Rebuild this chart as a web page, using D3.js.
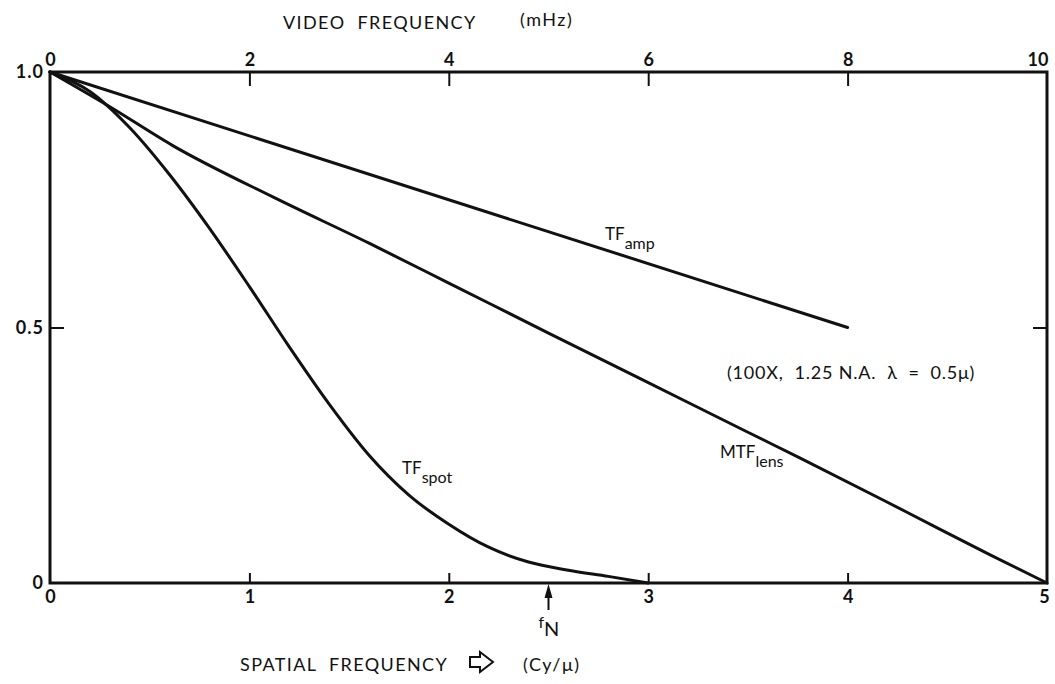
<!DOCTYPE html>
<html><head><meta charset="utf-8">
<script src="https://cdn.jsdelivr.net/npm/d3@7"></script>
<style>
html,body{margin:0;padding:0;background:#fff;}
text{font-family:Lato,"Open Sans",sans-serif;fill:#111;white-space:pre;}
</style></head>
<body><svg id="c" width="1055" height="684"></svg>
<script>
// Data
const spatialTicks = [0,1,2,3,4,5];
const videoTicks = [0,2,4,6,8,10];
const yTicks = [0,0.5,1.0];
const yTickLabels = ["0","0.5","1.0"];
const ampS = [0,4];
const ampV = [1.0,0.5];
const lensS = [0,0.3,0.62,1.12,1.6,2.0,2.5,2.96,3.5,3.76,4.3,4.71,5];
const lensV = [1.0,0.932,0.855,0.755,0.665,0.587,0.489,0.40,0.295,0.245,0.138,0.056,0.0];
const spotS = [0,0.2,0.4,0.6,0.8,1.0,1.2,1.4,1.6,1.8,2.0,2.2,2.4,2.6,2.8,3.0];
const spotV = [1.0,0.962,0.891,0.799,0.694,0.58,0.462,0.35,0.25,0.172,0.115,0.07,0.041,0.025,0.013,0.0];
const nyquist = 2.5;

const svg = d3.select("#c");
const x = d3.scaleLinear().domain([0,5]).range([50,1047]);
const xTop = d3.scaleLinear().domain([0,10]).range([50,1047]);
const y = d3.scaleLinear().domain([0,1]).range([583,72]);

// axes
const gB = svg.append("g").attr("transform",`translate(0,${y(0)})`)
  .call(d3.axisBottom(x).tickValues(spatialTicks).tickFormat(d3.format("d")).tickSizeInner(-10).tickSizeOuter(0).tickPadding(7));
const gT = svg.append("g").attr("transform",`translate(0,${y(1)})`)
  .call(d3.axisTop(xTop).tickValues(videoTicks).tickFormat(d3.format("d")).tickSizeInner(-14).tickSizeOuter(0).tickPadding(6));
const gL = svg.append("g").attr("transform",`translate(${x(0)},0)`)
  .call(d3.axisLeft(y).tickValues(yTicks).tickFormat((d,i)=>yTickLabels[i]).tickSizeInner(-14).tickSizeOuter(0).tickPadding(6));
const gR = svg.append("g").attr("transform",`translate(${x(5)},0)`)
  .call(d3.axisRight(y).tickValues([0.5]).tickFormat("").tickSizeInner(-14).tickSizeOuter(0));
[gB,gT,gL,gR].forEach(g=>{
  g.select(".domain").remove();
  g.selectAll(".tick line").attr("stroke","#111").attr("stroke-width",2);
  g.selectAll(".tick text").attr("font-size",18).attr("font-weight","bold").style("fill","#111");
});
gB.selectAll(".tick line").filter(d=>d===0||d===5).remove();
gT.selectAll(".tick line").filter(d=>d===0||d===10).remove();
gL.selectAll(".tick line").filter(d=>d===0||d===1).remove();
gT.selectAll(".tick text").filter(d=>d===10).attr("text-anchor","end").attr("dx",1);
gB.selectAll(".tick text").filter(d=>d===5).attr("dx",-3);
gL.selectAll(".tick text").attr("letter-spacing",1);

// frame
svg.append("rect").attr("x",x(0)).attr("y",y(1)).attr("width",x(5)-x(0)).attr("height",y(0)-y(1))
  .attr("fill","none").attr("stroke","#111").attr("stroke-width",3);

// curves
const line = d3.line().x(d=>x(d[0])).y(d=>y(d[1])).curve(d3.curveMonotoneX);
function draw(S,V){
  svg.append("path").datum(S.map((s,i)=>[s,V[i]])).attr("d",line)
    .attr("fill","none").attr("stroke","#111").attr("stroke-width",3).attr("stroke-linejoin","round").attr("stroke-linecap","round");
}
draw(ampS,ampV); draw(lensS,lensV); draw(spotS,spotV);

// labels
function sublabel(px,py,main,sub){
  const t = svg.append("text").attr("x",px).attr("y",py).attr("font-size",17);
  t.append("tspan").text(main);
  t.append("tspan").attr("dy",9).attr("font-size",16).text(sub);
}
sublabel(605,240,"TF","amp");
sublabel(720,458,"MTF","lens");
sublabel(402,474,"TF","spot");
svg.append("text").attr("x",727).attr("y",379).attr("font-size",18).attr("letter-spacing",0.8)
  .text("(100X,  1.25 N.A.  λ  =  0.5μ)");

// Nyquist arrow
const nx = x(nyquist);
svg.append("path").attr("d",`M${nx},${y(0)+1} L${nx-4},${y(0)+15} L${nx+4},${y(0)+15} Z`).attr("fill","#111");
svg.append("line").attr("x1",nx).attr("x2",nx).attr("y1",y(0)+10).attr("y2",y(0)+27).attr("stroke","#111").attr("stroke-width",2);
const fn = svg.append("text").attr("x",nx-10).attr("y",628).attr("font-size",16);
fn.append("tspan").text("f");
fn.append("tspan").attr("dy",8).attr("font-size",20).text("N");

// axis titles
svg.append("text").attr("x",283).attr("y",29).attr("font-size",18).attr("letter-spacing",1.4).text("VIDEO  FREQUENCY");
svg.append("text").attr("x",520).attr("y",26).attr("font-size",18).attr("letter-spacing",1.5).text("(mHz)");
svg.append("text").attr("x",240).attr("y",671).attr("font-size",18).attr("letter-spacing",1.4).text("SPATIAL  FREQUENCY");
svg.append("path").attr("d","M470,657 L480,657 L480,652 L493,662 L480,672 L480,667 L470,667 Z")
  .attr("fill","none").attr("stroke","#111").attr("stroke-width",2);
svg.append("text").attr("x",523).attr("y",671).attr("font-size",18).attr("letter-spacing",1.5).text("(Cy/μ)");
</script></body></html>
